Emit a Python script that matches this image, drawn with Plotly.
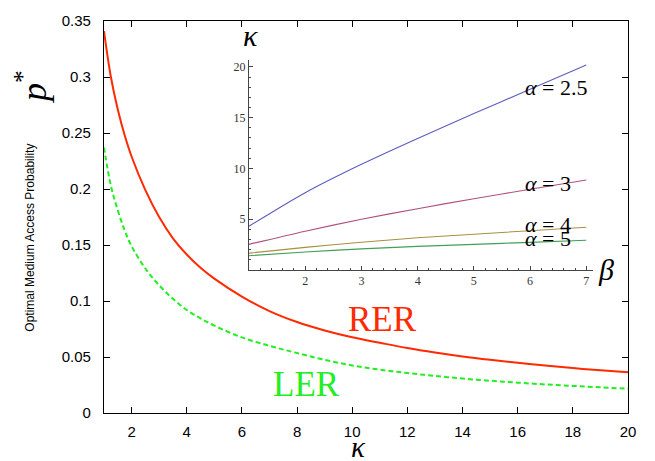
import plotly.graph_objects as go

# ---------------- data ----------------
kappa = [1, 1.25, 1.5, 1.75, 2, 2.5, 3, 3.5, 4, 4.5, 5, 6, 7, 8, 9, 10,
         11, 12, 13, 14, 15, 16, 17, 18, 19, 20]
rer = [0.341, 0.300, 0.271, 0.248, 0.229, 0.199, 0.175, 0.156, 0.1415, 0.1297, 0.120,
       0.104, 0.091, 0.0812, 0.0737, 0.0676, 0.0627, 0.0580, 0.0540, 0.0505,
       0.0475, 0.0448, 0.0423, 0.0401, 0.0381, 0.0363]
ler = [0.237, 0.203, 0.181, 0.163, 0.149, 0.129, 0.114, 0.102, 0.092, 0.0845, 0.078,
       0.0675, 0.060, 0.0535, 0.0475, 0.0425, 0.0387, 0.0357, 0.0331, 0.0308,
       0.0288, 0.0271, 0.0255, 0.0242, 0.0229, 0.0217]

beta = [1, 2, 3, 4, 5, 6, 7]
k_a25 = [4.29, 7.6, 10.4, 12.95, 15.4, 17.8, 20.2]
k_a3 = [2.5, 3.8, 4.97, 6.02, 7.0, 7.93, 8.85]
k_a4 = [1.63, 2.2, 2.7, 3.15, 3.5, 3.85, 4.19]
k_a5 = [1.38, 1.75, 2.05, 2.3, 2.5, 2.7, 2.9]

main_xticks = [2, 4, 6, 8, 10, 12, 14, 16, 18, 20]
main_yticks = [0, 0.05, 0.1, 0.15, 0.2, 0.25, 0.3, 0.35]
main_yticklabels = ["0", "0.05", "0.1", "0.15", "0.2", "0.25", "0.3", "0.35"]
inset_xticks = [2, 3, 4, 5, 6, 7]
inset_yticks = [5, 10, 15, 20]

# ---------------- geometry helpers ----------------
W, H = 655, 461
L, R, T, B = 104, 27, 15, 48
PW, PH = W - L - R, H - T - B


def px(x):
    return (x - L) / PW


def py(y):
    return (H - B - y) / PH


SERIF = "Liberation Serif, Times New Roman, serif"
SANS = "Liberation Sans, Arial, sans-serif"

fig = go.Figure()

fig.add_trace(go.Scatter(x=kappa, y=rer, mode="lines",
                         line=dict(color="#ff2a00", width=2, shape="spline", smoothing=1),
                         xaxis="x", yaxis="y", showlegend=False))
fig.add_trace(go.Scatter(x=kappa, y=ler, mode="lines",
                         line=dict(color="#22ee22", width=2, dash="5px,3px", shape="spline", smoothing=1),
                         xaxis="x", yaxis="y", showlegend=False))

inset_colors = ["#5c5cc0", "#b0507e", "#a89040", "#40a058"]
for ks, c in zip([k_a25, k_a3, k_a4, k_a5], inset_colors):
    fig.add_trace(go.Scatter(x=beta, y=ks, mode="lines",
                             line=dict(color=c, width=1.1, shape="spline", smoothing=0.8),
                             xaxis="x2", yaxis="y2", showlegend=False))

axis_common = dict(showgrid=False, zeroline=False, showline=True, linecolor="black",
                   linewidth=1.3, mirror="ticks", ticks="inside", ticklen=6,
                   tickcolor="black", tickwidth=1.3,
                   tickfont=dict(family=SANS, size=15, color="black"))

fig.update_layout(
    width=W, height=H,
    margin=dict(l=L, r=R, t=T, b=B),
    paper_bgcolor="white", plot_bgcolor="white",
    xaxis=dict(range=[1, 20], tickvals=main_xticks, ticklabelstandoff=5, **axis_common),
    yaxis=dict(range=[0, 0.35], tickvals=main_yticks, ticktext=main_yticklabels,
               ticklabelstandoff=9, **axis_common),
    xaxis2=dict(domain=[px(249), px(593)], anchor="y2", range=[1, 7.12],
                tickvals=inset_xticks, showgrid=False, zeroline=False,
                showline=True, linecolor="#444", linewidth=1,
                ticks="inside", ticklen=4, tickcolor="#444", tickwidth=1,
                minor=dict(ticks="inside", ticklen=2, dtick=0.2, tickcolor="#444", tickwidth=1),
                tickfont=dict(family=SERIF, size=12, color="#333")),
    yaxis2=dict(domain=[py(267.5), py(55)], anchor="x2", range=[0, 20.65],
                tickvals=inset_yticks, showgrid=False, zeroline=False,
                showline=True, linecolor="#444", linewidth=1,
                ticks="inside", ticklen=4, tickcolor="#444", tickwidth=1,
                minor=dict(ticks="inside", ticklen=2, dtick=1, tickcolor="#444", tickwidth=1),
                tickfont=dict(family=SERIF, size=12, color="#333")),
)

ann = []


def add(text, x, y, size, family, color="black", angle=0, xanchor="center"):
    ann.append(dict(text=text, x=px(x), y=py(y), xref="paper", yref="paper",
                    showarrow=False, textangle=angle, xanchor=xanchor, yanchor="middle",
                    font=dict(family=family, size=size, color=color)))


# axis titles
add("<i>κ</i>", 358, 448, 29, SERIF)
add("Optimal Medium Access Probability", 30, 235, 12, SANS, angle=-90)
add("<i>p</i><sup>*</sup>", 32, 82, 36, SERIF, angle=-90)

# curve labels
add("RER", 382, 318, 35, SERIF, color="#ff2a00")
add("LER", 306, 384, 35, SERIF, color="#22ee22")

# inset titles
add("<i>κ</i>", 250, 30, 30, SERIF)
add("<i>β</i>", 606, 267, 30, SERIF)

# inset curve labels
add("<i>α</i> = 2.5", 523, 83, 22, SERIF, xanchor="left")
add("<i>α</i> = 3", 523, 180, 22, SERIF, xanchor="left")
add("<i>α</i> = 4", 523, 222, 22, SERIF, xanchor="left")
add("<i>α</i> = 5", 523, 236, 22, SERIF, xanchor="left")

fig.update_layout(annotations=ann)

fig.write_html("out.html", post_script="document.body.style.margin='0px';",
               config={"displayModeBar": False})
